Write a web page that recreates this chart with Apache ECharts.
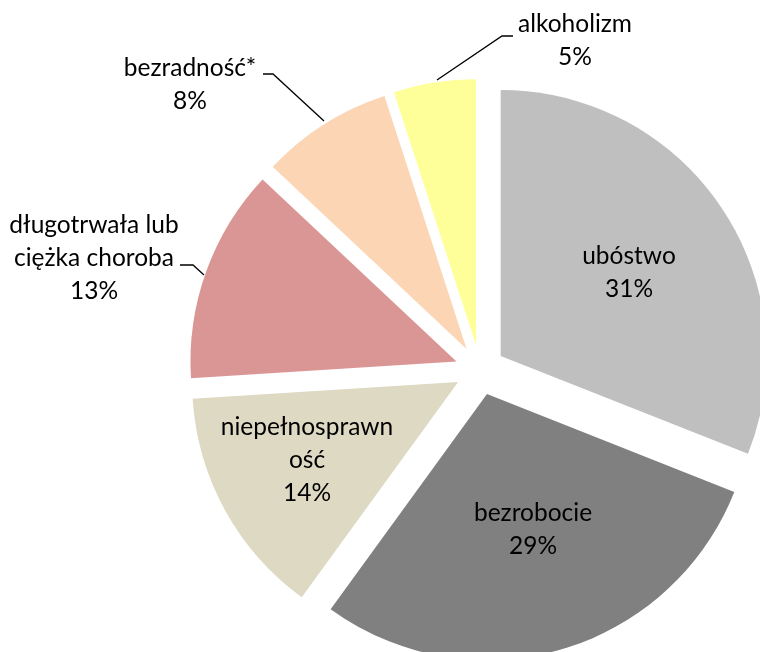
<!DOCTYPE html>
<html>
<head>
<meta charset="utf-8">
<script src="https://cdn.jsdelivr.net/npm/echarts@6/dist/echarts.min.js"></script>
<style>
  html, body { margin: 0; padding: 0; background: #fff; }
  #chart { width: 760px; height: 652px; }
</style>
</head>
<body>
<div id="chart"></div>
<script>
// Causes of receiving social assistance (share of families, %)
const categories = ['ubóstwo', 'bezrobocie', 'niepełnosprawność', 'długotrwała lub ciężka choroba', 'bezradność*', 'alkoholizm'];
const shares = [31, 29, 14, 13, 8, 5];
// Category names as wrapped in the labels
const labelNames = ['ubóstwo', 'bezrobocie', 'niepełnosprawn\ność', 'długotrwała lub\nciężka choroba', 'bezradność*', 'alkoholizm'];

const colors = ['#BFBFBF', '#808080', '#DDD9C3', '#DA9694', '#FCD5B5', '#FFFF99'];

// Centre of each label block, and the leader lines of the outer labels
const labelAnchors = [[629, 273], [533, 530], [307, 460], [94, 258], [190, 85], [575, 41]];
const leaderLines = [
  [[180, 265], [193, 265], [204, 275]],
  [[263, 74], [273, 74], [324, 121]],
  [[513, 36], [502, 36], [437, 80]]
];

const labelFont = '24.5px Lato';

const graphics = categories.map((name, i) => ({
  type: 'text',
  x: labelAnchors[i][0],
  y: labelAnchors[i][1],
  z: 100,
  silent: true,
  style: {
    text: labelNames[i] + '\n' + shares[i] + '%',
    font: labelFont,
    fill: '#000',
    align: 'center',
    verticalAlign: 'middle',
    lineHeight: 33
  }
})).concat(leaderLines.map(pts => ({
  type: 'polyline',
  z: 100,
  silent: true,
  shape: { points: pts },
  style: { stroke: '#000', lineWidth: 1.3, fill: null }
})));

const chart = echarts.init(document.getElementById('chart'));
chart.setOption({
  animation: false,
  backgroundColor: '#ffffff',
  series: [{
    type: 'pie',
    z: 2,
    center: [480, 370],
    radius: 266,
    startAngle: 90,
    clockwise: true,
    selectedMode: 'multiple',
    selectedOffset: 25,
    emphasis: { disabled: true },
    itemStyle: { borderWidth: 0 },
    label: { show: false },
    labelLine: { show: false },
    data: categories.map((name, i) => ({
      name: name,
      value: shares[i],
      selected: true,
      itemStyle: { color: colors[i] }
    }))
  }],
  graphic: { elements: graphics }
});
</script>
</body>
</html>
